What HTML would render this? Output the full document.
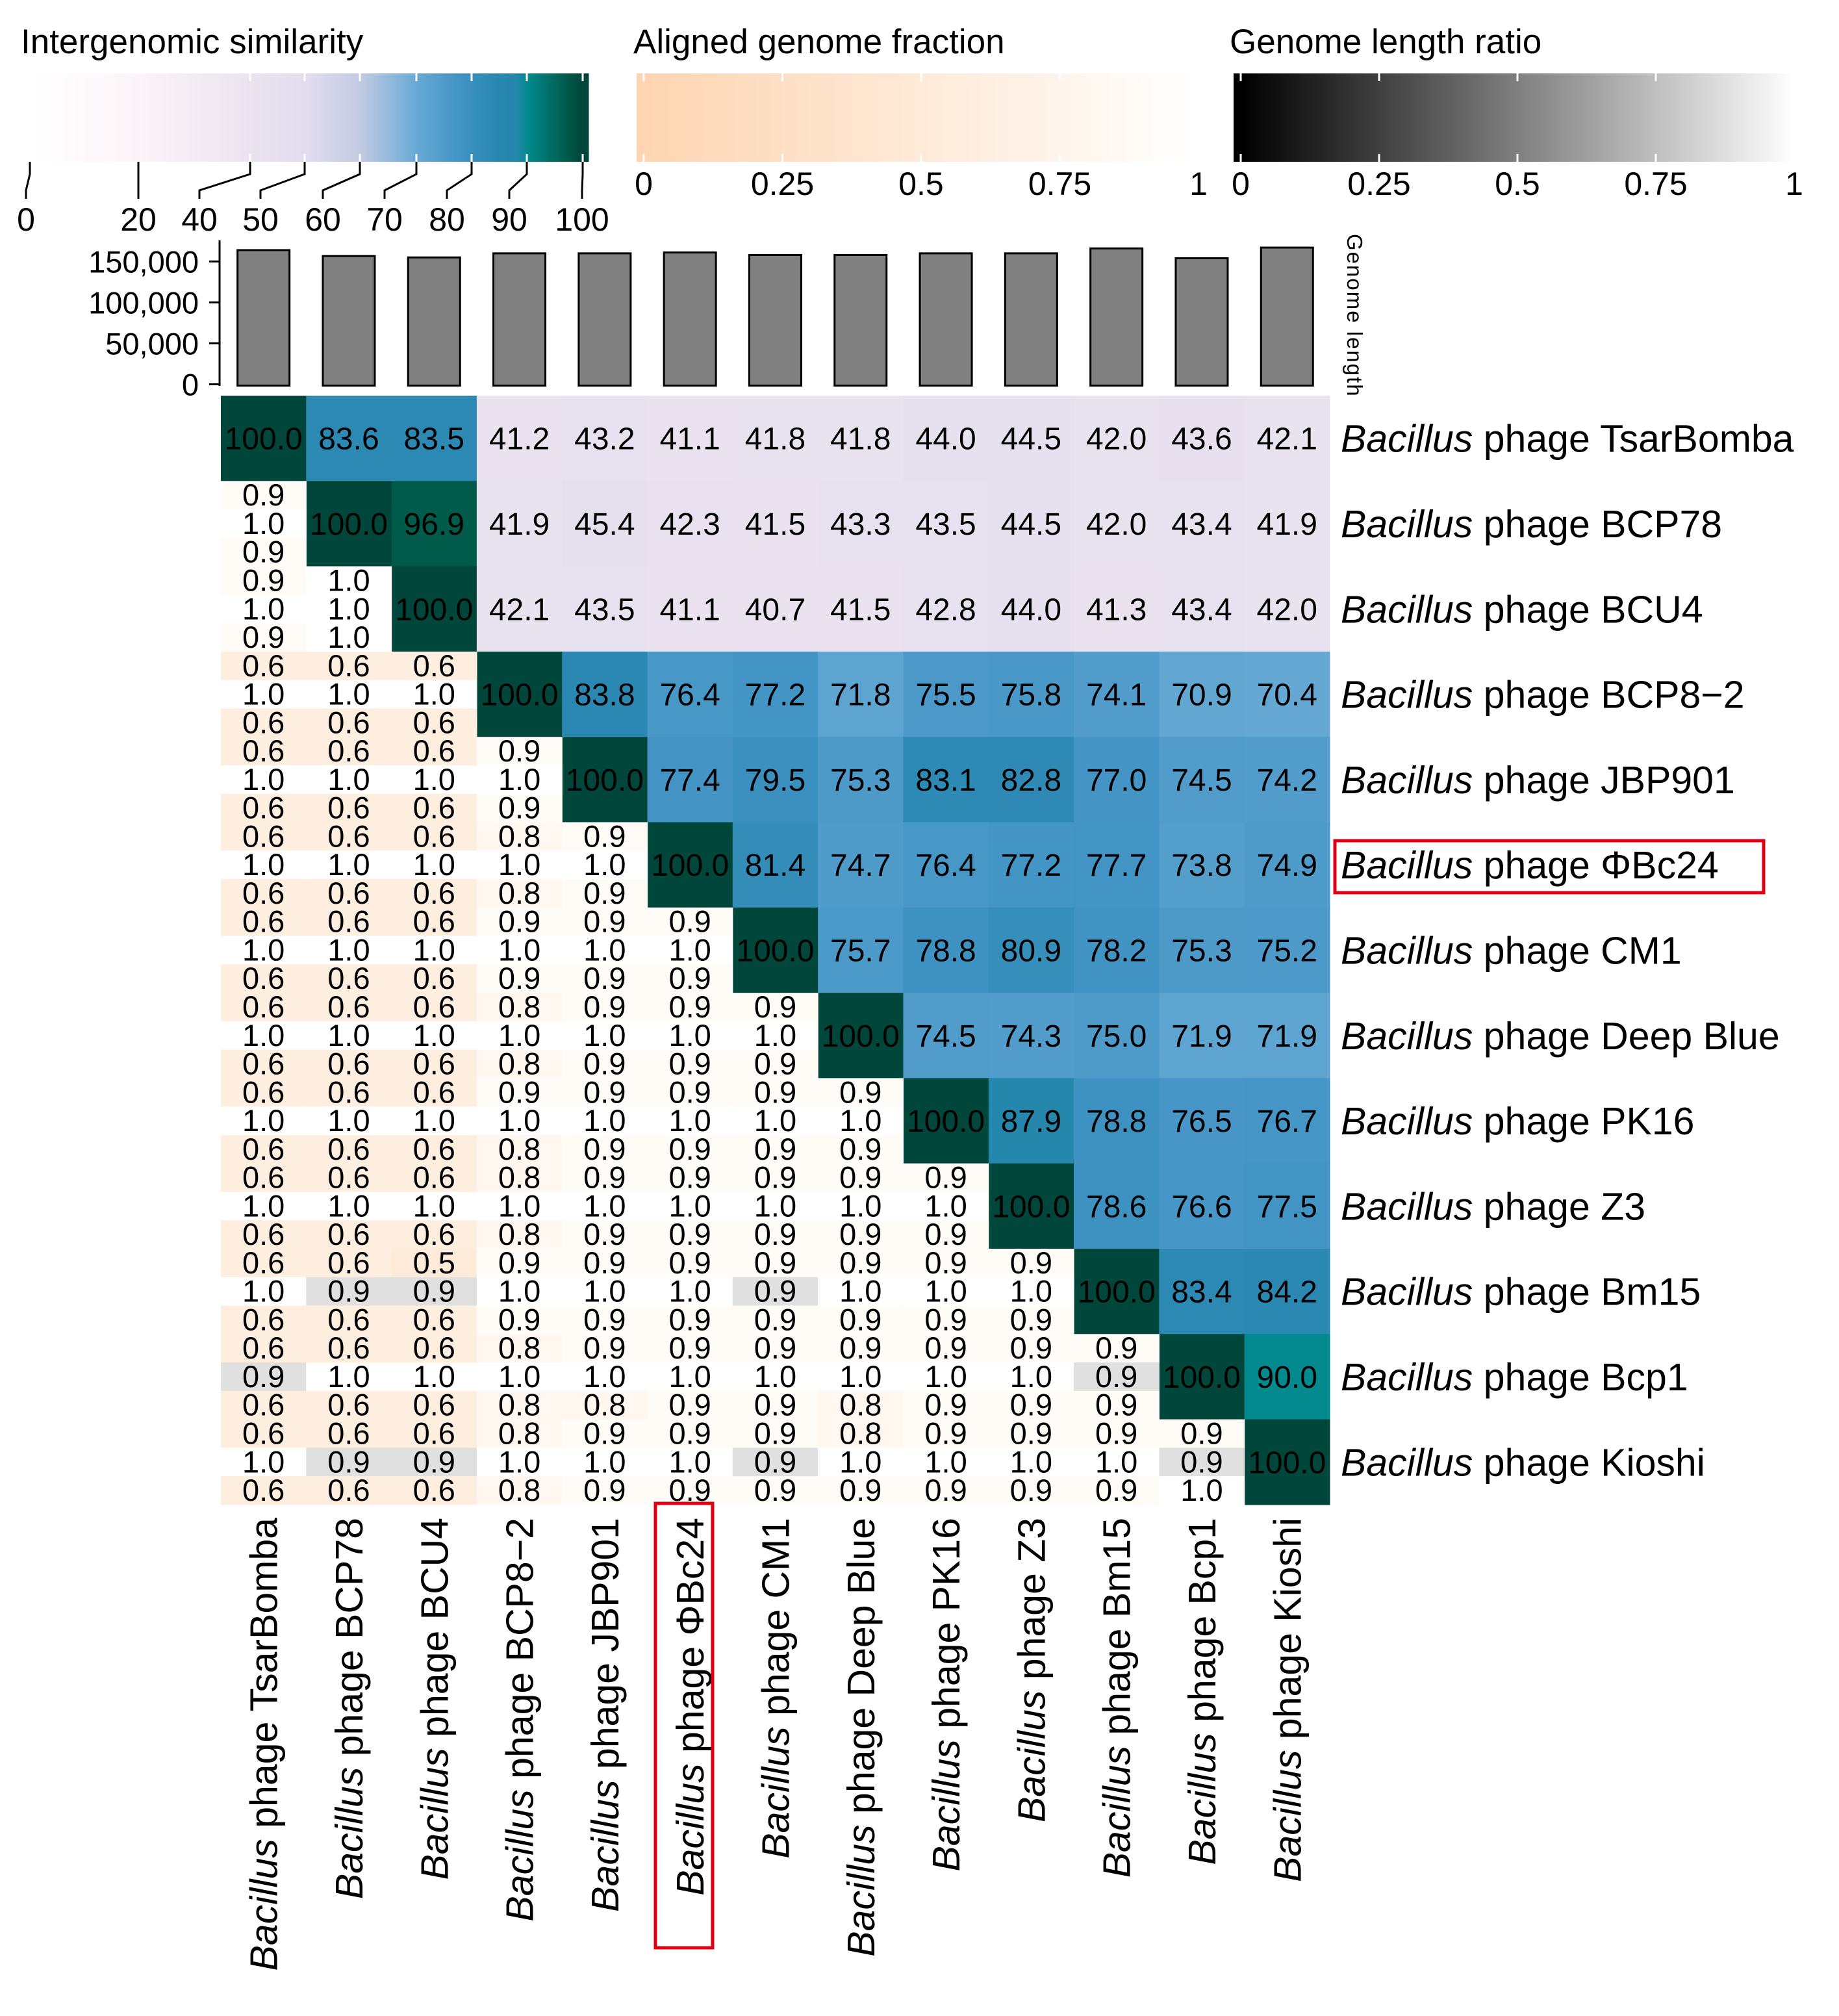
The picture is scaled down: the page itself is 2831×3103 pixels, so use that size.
<!DOCTYPE html>
<html><head><meta charset="utf-8"><style>
html,body{margin:0;padding:0;background:#fff}
svg{display:block;font-family:"Liberation Sans",Arial,sans-serif}
</style></head><body>
<svg id="chart" xmlns="http://www.w3.org/2000/svg" width="2831" height="3103" viewBox="0 0 2831 3103">
<g id="legends"></g>
<g id="bars"></g>
<g id="heat"></g>
<g id="labels"></g>
</svg>
<script>
const phages = ["TsarBomba","BCP78","BCU4","BCP8\u22122","JBP901","\u03A6Bc24","CM1","Deep Blue","PK16","Z3","Bm15","Bcp1","Kioshi"];
const genomeLengths = [163900,156700,155000,160000,160000,161000,158000,158000,160000,160000,166000,154000,167000];
const lengthTicks = [0,50000,100000,150000];
const similarityRows = [
[100,83.6,83.5,41.2,43.2,41.1,41.8,41.8,44.0,44.5,42.0,43.6,42.1],
[100,96.9,41.9,45.4,42.3,41.5,43.3,43.5,44.5,42.0,43.4,41.9],
[100,42.1,43.5,41.1,40.7,41.5,42.8,44.0,41.3,43.4,42.0],
[100,83.8,76.4,77.2,71.8,75.5,75.8,74.1,70.9,70.4],
[100,77.4,79.5,75.3,83.1,82.8,77.0,74.5,74.2],
[100,81.4,74.7,76.4,77.2,77.7,73.8,74.9],
[100,75.7,78.8,80.9,78.2,75.3,75.2],
[100,74.5,74.3,75.0,71.9,71.9],
[100,87.9,78.8,76.5,76.7],
[100,78.6,76.6,77.5],
[100,83.4,84.2],
[100,90.0],
[100]];
// lower triangle: [top aligned fraction, length ratio, bottom aligned fraction]
const lowerTop = [[],[.9],[.9,1],[.6,.6,.6],[.6,.6,.6,.9],[.6,.6,.6,.8,.9],[.6,.6,.6,.9,.9,.9],[.6,.6,.6,.8,.9,.9,.9],
[.6,.6,.6,.9,.9,.9,.9,.9],[.6,.6,.6,.8,.9,.9,.9,.9,.9],[.6,.6,.5,.9,.9,.9,.9,.9,.9,.9],[.6,.6,.6,.8,.9,.9,.9,.9,.9,.9,.9],[.6,.6,.6,.8,.9,.9,.9,.8,.9,.9,.9,.9]];
const lowerRatio = [[],[1],[1,1],[1,1,1],[1,1,1,1],[1,1,1,1,1],[1,1,1,1,1,1],[1,1,1,1,1,1,1],
[1,1,1,1,1,1,1,1],[1,1,1,1,1,1,1,1,1],[1,.9,.9,1,1,1,.9,1,1,1],[.9,1,1,1,1,1,1,1,1,1,.9],[1,.9,.9,1,1,1,.9,1,1,1,1,.9]];
const lowerBottom = [[],[.9],[.9,1],[.6,.6,.6],[.6,.6,.6,.9],[.6,.6,.6,.8,.9],[.6,.6,.6,.9,.9,.9],[.6,.6,.6,.8,.9,.9,.9],
[.6,.6,.6,.8,.9,.9,.9,.9],[.6,.6,.6,.8,.9,.9,.9,.9,.9],[.6,.6,.6,.9,.9,.9,.9,.9,.9,.9],[.6,.6,.6,.8,.8,.9,.9,.8,.9,.9,.9],[.6,.6,.6,.8,.9,.9,.9,.9,.9,.9,.9,1.0]];
const simTicks = [0,20,40,50,60,70,80,90,100];
const fracTicks = [0,0.25,0.5,0.75,1];
const highlighted = 5;

const NS="http://www.w3.org/2000/svg";
function mk(tag,attrs,parent,text){const e=document.createElementNS(NS,tag);for(const k in attrs)e.setAttribute(k,attrs[k]);if(text!==undefined)e.textContent=text;parent.appendChild(e);return e;}
function hex(c){return [parseInt(c.slice(1,3),16),parseInt(c.slice(3,5),16),parseInt(c.slice(5,7),16)];}
function interp(stops,v){if(v<=stops[0][0])return stops[0][1];for(let i=1;i<stops.length;i++){if(v<=stops[i][0]){const a=stops[i-1],b=stops[i];const t=(v-a[0])/(b[0]-a[0]);const ca=hex(a[1]),cb=hex(b[1]);return "rgb("+ca.map((x,k)=>Math.round(x+(cb[k]-x)*t)).join(",")+")";}}return stops[stops.length-1][1];}
const simStops=[[0,"#ffffff"],[20,"#fcf4f8"],[40,"#ebe3ef"],[50,"#e2dcee"],[60,"#c2cbe3"],[70,"#67a9d4"],[77,"#4495c6"],[84,"#2a88b2"],[88,"#2487ab"],[90,"#038a8e"],[97,"#005a4a"],[100,"#00463a"]];
const fracStops=[[0,"#fdd5b2"],[1,"#ffffff"]];
const ratioStops=[[0,"#000000"],[1,"#ffffff"]];
const simColor=v=>interp(simStops,v), fracColor=v=>interp(fracStops,v), ratioColor=v=>interp(ratioStops,v);

const X0=340,Y0=609,CW=131.3,CH=131.3;
const colX=j=>X0+CW*j, rowY=i=>Y0+CH*i;

// ---------- legends ----------
const L=document.getElementById('legends');
const t1=mk('text',{x:32,y:82,'font-size':53},L,'Intergenomic similarity');

const t2=mk('text',{x:975,y:82,'font-size':53},L,'Aligned genome fraction');

const t3=mk('text',{x:1893,y:82,'font-size':53},L,'Genome length ratio');

const simBarStops=[[0,43],[20,213],[40,385],[50,469],[60,554],[70,641],[80,726],[90,811],[100,897]];
function simBarX(v){for(let i=1;i<simBarStops.length;i++){if(v<=simBarStops[i][0]){const a=simBarStops[i-1],b=simBarStops[i];return a[1]+(b[1]-a[1])*(v-a[0])/(b[0]-a[0]);}}return 897;}
function simBarV(x){for(let i=1;i<simBarStops.length;i++){if(x<=simBarStops[i][1]){const a=simBarStops[i-1],b=simBarStops[i];return a[0]+(b[0]-a[0])*(x-a[1])/(b[1]-a[1]);}}return 100;}
const g1=mk('g',{},L);
for(let x=54;x<906;x+=2){mk('rect',{x:x,y:113,width:2.5,height:136,fill:simColor(simBarV(x))},g1);}
const g2=mk('g',{},L);
for(let x=980;x<1833;x+=2){mk('rect',{x:x,y:113,width:2.5,height:136,fill:fracColor((x-991)/(1845-991))},g2);}
const g3=mk('g',{},L);
for(let x=1899;x<2762;x+=2){mk('rect',{x:x,y:113,width:2.5,height:136,fill:ratioColor((x-1910)/(2762-1910))},g3);}
const simLabelX=[40,213,307,401,497,592,688,784,896];
simTicks.forEach((v,k)=>{const bx=simBarX(v);
 if(v>=40){mk('line',{x1:bx,y1:113,x2:bx,y2:125,stroke:'#fff','stroke-width':3},L);mk('line',{x1:bx,y1:237,x2:bx,y2:249,stroke:'#fff','stroke-width':3},L);}
 const lx=simLabelX[k];
 mk('polyline',{points:`${Math.max(bx,46)},249 ${Math.max(bx,46)},268 ${lx},293 ${lx},306`,fill:'none',stroke:'#000','stroke-width':3},L);
 const t=mk('text',{x:lx,y:355,'font-size':50,'text-anchor':'middle'},L,String(v));
 
});
fracTicks.forEach(v=>{
 const x2=991+v*(1845-991);
 mk('line',{x1:x2,y1:113,x2:x2,y2:125,stroke:'#fff','stroke-width':3},L);mk('line',{x1:x2,y1:237,x2:x2,y2:249,stroke:'#fff','stroke-width':3},L);
 const ta=mk('text',{x:x2,y:300,'font-size':50,'text-anchor':'middle'},L,String(v));
 
 const x3=1910+v*(2762-1910);
 mk('line',{x1:x3,y1:113,x2:x3,y2:125,stroke:'#fff','stroke-width':3},L);mk('line',{x1:x3,y1:237,x2:x3,y2:249,stroke:'#fff','stroke-width':3},L);
 const tb=mk('text',{x:x3,y:300,'font-size':50,'text-anchor':'middle'},L,String(v));
 
});

// ---------- bars ----------
const B=document.getElementById('bars');
const yLen=v=>591.5-v/50000*63;
mk('line',{x1:338,y1:370,x2:338,y2:594,stroke:'#000','stroke-width':3},B);
lengthTicks.forEach(v=>{mk('line',{x1:322,y1:yLen(v),x2:338,y2:yLen(v),stroke:'#000','stroke-width':3},B);
 const t=mk('text',{x:306,y:yLen(v)+17,'font-size':47,'text-anchor':'end'},B,v.toLocaleString('en-US'));
 });
genomeLengths.forEach((v,j)=>{const r=mk('rect',{x:colX(j)+CW/2-40,y:yLen(v),width:80,height:yLen(0)-yLen(v)+2,fill:'#808080',stroke:'#000','stroke-width':3},B);
 });
const gl=mk('text',{x:0,y:0,'font-size':33,transform:'translate(2074,360) rotate(90)','letter-spacing':'2'},B,'Genome length');


// ---------- heatmap ----------
const H=document.getElementById('heat');
for(let i=0;i<13;i++){
 for(let j=i;j<13;j++){const v=similarityRows[i][j-i];
  const r=mk('rect',{x:colX(j),y:rowY(i),width:CW+0.6,height:CH+0.6,fill:simColor(v)},H);
  
  const t=mk('text',{x:colX(j)+CW/2,y:rowY(i)+CH/2+17,'font-size':48,'text-anchor':'middle',fill:'#000'},H,v.toFixed(1));
  }
 for(let j=0;j<i;j++){
  const vals=[lowerTop[i][j],lowerRatio[i][j],lowerBottom[i][j]];
  vals.forEach((v,k)=>{const fill=k===1?ratioColor(v>=0.95?1:0.88):fracColor(v);
   const r=mk('rect',{x:colX(j),y:rowY(i)+k*CH/3,width:CW+0.6,height:CH/3+0.6,fill:fill},H);
   
   const t=mk('text',{x:colX(j)+CW/2,y:rowY(i)+k*CH/3+CH/6+16,'font-size':47,'text-anchor':'middle'},H,v.toFixed(1));
   });
 }
}

// ---------- labels ----------
const LB=document.getElementById('labels');
phages.forEach((p,i)=>{
 const t=mk('text',{x:2064,y:rowY(i)+CH/2+21,'font-size':59},LB);
 
 mk('tspan',{'font-style':'italic'},t,'Bacillus');mk('tspan',{},t,' phage '+p);
 const cx=colX(i)+CW/2+21;
 const c=mk('text',{x:0,y:0,'font-size':59,'text-anchor':'end',transform:`translate(${cx},2336) rotate(-90)`},LB);
 
 mk('tspan',{'font-style':'italic'},c,'Bacillus');mk('tspan',{},c,' phage '+p);
});
const hb1=mk('rect',{x:2055,y:1294,width:660,height:80,fill:'none',stroke:'#e00016','stroke-width':5},LB);

const hb2=mk('rect',{x:1009,y:2314,width:88,height:684,fill:'none',stroke:'#e00016','stroke-width':5},LB);

</script>
</body></html>
